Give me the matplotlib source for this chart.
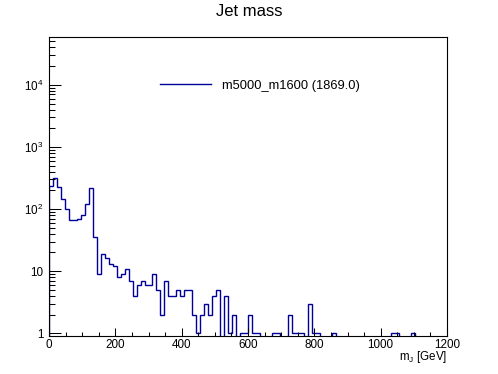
import numpy as np
import matplotlib
matplotlib.use('Agg')
import matplotlib.pyplot as plt
from matplotlib.ticker import FixedLocator, FixedFormatter, MultipleLocator, LogLocator, NullFormatter

plt.rcParams['font.family'] = ['Liberation Sans', 'DejaVu Sans']
plt.rcParams['mathtext.fontset'] = 'custom'
plt.rcParams['mathtext.rm'] = 'Liberation Sans'
plt.rcParams['mathtext.it'] = 'Liberation Sans:italic'

##jet mass histogram, 100 bins of 12 GeV from 0 to 1200
mass_lo, mass_hi, nbins = 0, 1200, 100
counts = [238, 312, 226, 145, 100, 66, 66, 69, 80, 122,
          218, 35, 9, 19, 16, 13, 12, 8, 9, 11,
          7, 4, 6, 7, 6, 6, 9, 5, 2, 7,
          4, 4, 5, 4, 5, 5, 2, 1, 2, 3,
          2, 4, 5, 0, 4, 1, 2, 0, 1, 1,
          2, 1, 1, 0, 0, 0, 1, 1, 0, 0,
          2, 1, 1, 1, 0, 3, 1, 1, 0, 0,
          0, 1, 0, 0, 0, 0, 0, 0, 0, 0,
          0, 0, 0, 0, 0, 0, 1, 1, 0, 0,
          0, 1, 0, 0, 0, 0, 0, 0, 0, 0]
sample = 'm5000_m1600'
integral = 1869.0

yticks = [1, 10, 100, 1000, 10000]
ylabels = ['1', '10', '$10^{2}$', '$10^{3}$', '$10^{4}$']

edges = np.linspace(mass_lo, mass_hi, nbins + 1)
W, H = 498, 374

fig = plt.figure(figsize=(W / 100, H / 100), dpi=100)
ax = fig.add_axes([49 / W, 1 - 335.5 / H, (447 - 49) / W, (335.5 - 37) / H])

ax.stairs(counts, edges, color='#000099', lw=1.0,
          label='%s (%.1f)' % (sample, integral))

ax.set_yscale('log')
ax.set_xlim(mass_lo, mass_hi)
ax.set_ylim(0.92, 5.9e4)

##axis ticks in the ROOT way
ax.xaxis.set_major_locator(MultipleLocator(200))
ax.xaxis.set_minor_locator(MultipleLocator(50))
ax.yaxis.set_major_locator(FixedLocator(yticks))
ax.yaxis.set_major_formatter(FixedFormatter(ylabels))
ax.yaxis.set_minor_locator(LogLocator(base=10, subs=np.arange(2, 10)))
ax.yaxis.set_minor_formatter(NullFormatter())
ax.tick_params(axis='x', which='major', direction='in', length=5.8, width=0.75, labelsize=8.4, pad=2.5)
ax.tick_params(axis='x', which='minor', direction='in', length=2.9, width=0.75)
ax.tick_params(axis='y', which='major', direction='in', length=8.6, width=0.75, labelsize=8.4, pad=4)
ax.tick_params(axis='y', which='minor', direction='in', length=4.3, width=0.75)
for s in ax.spines.values():
	s.set_linewidth(0.8)

fig.text(0.5, 1 - 12 / H, 'Jet mass', ha='center', va='center', fontsize=12)
fig.text(447 / W, 1 - 357 / H, r'm$_{\mathrm{J}}$ [GeV]', ha='right', va='center', fontsize=8.4)

ax.legend(loc='center left', bbox_to_anchor=(160 / W, 1 - 86 / H), bbox_transform=fig.transFigure,
          frameon=False, fontsize=9.3, handlelength=3.95, handletextpad=0.83,
          borderpad=0, borderaxespad=0)

fig.savefig('out.png', dpi=100)
